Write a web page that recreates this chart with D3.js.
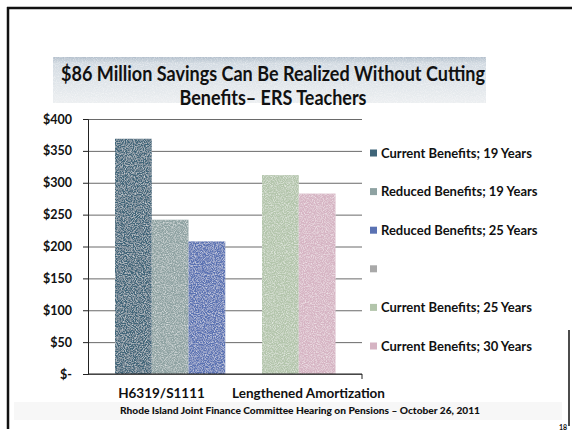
<!DOCTYPE html>
<html>
<head>
<meta charset="utf-8">
<script src="https://cdn.jsdelivr.net/npm/d3@7"></script>
<style>
  html, body { margin: 0; padding: 0; background: #fff; }
  svg { display: block; }
  text { font-family: Lato, "Open Sans", "DejaVu Sans", sans-serif; fill: #111; }
</style>
</head>
<body>
<svg id="chart" width="572" height="432"></svg>
<script>
// Pension funding cost by scenario (millions of dollars)
const categories = ["H6319/S1111", "Lengthened Amortization"];
const seriesNames = [
  "Current Benefits; 19 Years",
  "Reduced Benefits; 19 Years",
  "Reduced Benefits; 25 Years",
  "",
  "Current Benefits; 25 Years",
  "Current Benefits; 30 Years"
];
const currentBenefits19 = [369, null];
const reducedBenefits19 = [242, null];
const reducedBenefits25 = [208, null];
const unnamedSeries     = [null, null];
const currentBenefits25 = [null, 312];
const currentBenefits30 = [null, 283];
const seriesValues = [currentBenefits19, reducedBenefits19, reducedBenefits25,
                      unnamedSeries, currentBenefits25, currentBenefits30];
const seriesColors = ["#3f6579", "#8ea2a2", "#5a72b3", "#a9a9a9", "#b3c5ab", "#d6b4c3"];
const yTicks = [0, 50, 100, 150, 200, 250, 300, 350, 400];
const yTickLabels = ["$-", "$50", "$100", "$150", "$200", "$250", "$300", "$350", "$400"];
const titleLines = ["$86 Million Savings Can Be Realized Without Cutting", "Benefits\u2013 ERS Teachers"];
const footerText = "Rhode Island Joint Finance Committee Hearing on Pensions \u2013  October 26, 2011";
const pageNumber = "18";

const svg = d3.select("#chart");
const defs = svg.append("defs");

// light speckled print texture
function addGrain(id, strength, offset) {
  const f = defs.append("filter").attr("id", id)
    .attr("x", 0).attr("y", 0).attr("width", "100%").attr("height", "100%");
  f.append("feTurbulence").attr("type", "fractalNoise").attr("baseFrequency", 0.9)
    .attr("numOctaves", 2).attr("seed", 7).attr("result", "noise");
  f.append("feColorMatrix").attr("in", "noise").attr("type", "matrix")
    .attr("values", `0 0 0 0 1  0 0 0 0 1  0 0 0 0 1  ${strength} 0 0 0 ${offset}`).attr("result", "spots");
  f.append("feComposite").attr("in", "spots").attr("in2", "SourceGraphic")
    .attr("operator", "in").attr("result", "clipped");
  const m = f.append("feMerge");
  m.append("feMergeNode").attr("in", "SourceGraphic");
  m.append("feMergeNode").attr("in", "clipped");
}
addGrain("grain", 1.3, -0.52);
addGrain("grainSoft", 1.0, -0.42);

const titleGrad = defs.append("linearGradient").attr("id", "titleBand")
  .attr("x1", 0).attr("y1", 0).attr("x2", 0).attr("y2", 1);
titleGrad.append("stop").attr("offset", 0).attr("stop-color", "#b2bfcc");
titleGrad.append("stop").attr("offset", 0.14).attr("stop-color", "#d3dbe2");
titleGrad.append("stop").attr("offset", 1).attr("stop-color", "#eceff1");

// slide frame
svg.append("rect").attr("width", 572).attr("height", 432).attr("fill", "#fff");
const frame = svg.append("g").attr("stroke", "#111").attr("fill", "none");
frame.append("line").attr("x1", 7).attr("x2", 572).attr("y1", 8).attr("y2", 8).attr("stroke-width", 2.5);
frame.append("line").attr("x1", 8).attr("x2", 8).attr("y1", 7).attr("y2", 429).attr("stroke-width", 2.5);
frame.append("line").attr("x1", 569).attr("x2", 569).attr("y1", 330).attr("y2", 426).attr("stroke-width", 1.5);

// title band
svg.append("rect").attr("x", 53).attr("y", 57).attr("width", 433).attr("height", 46)
  .attr("fill", "url(#titleBand)").attr("filter", "url(#grainSoft)");
const titleWidths = [424, 187];
svg.selectAll("text.title").data(titleLines).join("text")
  .attr("class", "title")
  .attr("x", 273).attr("y", (d, i) => 81 + i * 24)
  .attr("text-anchor", "middle")
  .attr("font-size", 20).attr("font-weight", 700)
  .attr("textLength", (d, i) => titleWidths[i]).attr("lengthAdjust", "spacingAndGlyphs")
  .text(d => d);

// faint footer band
svg.append("rect").attr("x", 14).attr("y", 402).attr("width", 548).attr("height", 18)
  .attr("fill", "#f7f7f7");
svg.append("text").attr("x", 300).attr("y", 414).attr("text-anchor", "middle")
  .attr("font-size", 10).attr("font-weight", 900)
  .attr("textLength", 360).attr("lengthAdjust", "spacingAndGlyphs")
  .text(footerText);
svg.append("text").attr("x", 563).attr("y", 430).attr("text-anchor", "middle")
  .attr("font-size", 7).attr("font-weight", 700).text(pageNumber);

// scales
const plotLeft = 88, plotRight = 362, plotTop = 119, plotBottom = 374;
const y = d3.scaleLinear().domain([0, 400]).range([plotBottom, plotTop]);
const x = d3.scaleBand().domain(categories).range([plotLeft, 382]);
const slot = d3.scaleBand().domain(d3.range(3)).range([0, x.bandwidth()])
  .paddingOuter(0.5).align(0.735);

// gridlines + value axis
const yAxis = svg.append("g").attr("transform", `translate(${plotLeft},0)`)
  .call(d3.axisLeft(y).tickValues(yTicks).tickSize(-(plotRight - plotLeft))
    .tickPadding(16).tickFormat((d, i) => yTickLabels[i]));
yAxis.select(".domain").remove();
yAxis.selectAll(".tick line").attr("stroke", "#6a6a6a").attr("stroke-width", 1);
yAxis.selectAll(".tick text").attr("font-size", 12.5).attr("font-weight", 700)
  .attr("fill", "#111").style("font-family", "Lato, sans-serif");

const yTickMarks = svg.append("g").attr("transform", `translate(${plotLeft},0)`)
  .call(d3.axisLeft(y).tickValues(yTicks).tickSize(5).tickFormat(""));
yTickMarks.selectAll(".tick line").attr("stroke", "#222");
yTickMarks.select(".domain").attr("stroke", "#222");

// bars: series present in a category fill its slots in order
const bars = [];
categories.forEach((c, ci) => {
  let k = 0;
  seriesValues.forEach((vals, si) => {
    if (vals[ci] != null) bars.push({ cat: c, series: si, slot: k++, value: vals[ci] });
  });
});
svg.append("g").attr("filter", "url(#grain)")
  .selectAll("rect").data(bars).join("rect")
  .attr("x", d => x(d.cat) + slot(d.slot))
  .attr("width", slot.bandwidth())
  .attr("y", d => y(d.value))
  .attr("height", d => y(0) - y(d.value))
  .attr("fill", d => seriesColors[d.series]);

// category axis
svg.append("line").attr("x1", plotLeft).attr("x2", plotRight)
  .attr("y1", y(0)).attr("y2", y(0)).attr("stroke", "#222");
svg.append("line").attr("x1", plotRight).attr("x2", plotRight)
  .attr("y1", y(0)).attr("y2", y(0) + 5).attr("stroke", "#222");
const xAxis = svg.append("g").attr("transform", `translate(0,${y(0)})`)
  .call(d3.axisBottom(x).tickSize(0).tickPadding(14));
xAxis.select(".domain").remove();
xAxis.selectAll(".tick text").attr("font-size", 13.5).attr("font-weight", 700)
  .attr("fill", "#111").style("font-family", "Lato, sans-serif");

// legend
const ly = d3.scalePoint().domain(d3.range(seriesNames.length)).range([153, 346]);
const legend = svg.append("g").selectAll("g").data(seriesNames).join("g")
  .attr("transform", (d, i) => `translate(370,${ly(i)})`);
legend.append("rect").attr("x", 0).attr("y", -3.5).attr("width", 7).attr("height", 7)
  .attr("fill", (d, i) => seriesColors[i]);
legend.append("text").attr("x", 11).attr("y", 4.5)
  .attr("font-size", 13).attr("font-weight", 700)
  .text(d => d);
</script>
</body>
</html>
